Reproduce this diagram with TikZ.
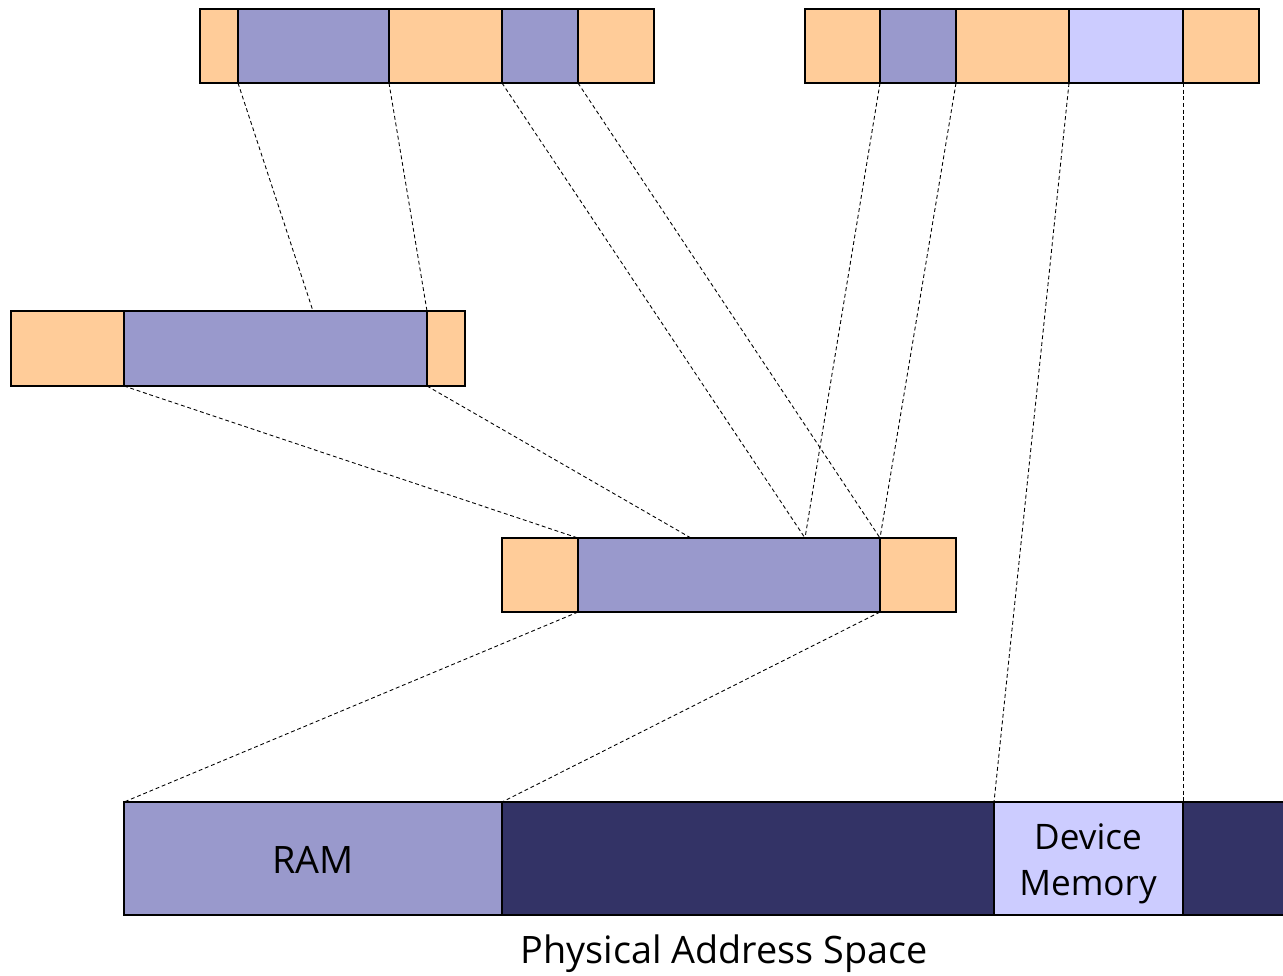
\documentclass[tikz,border=0pt]{standalone}
\usepackage{fontspec}
\setmainfont{Open Sans}
\definecolor{pageor}{HTML}{FFCC99}
\definecolor{pagepu}{HTML}{9999CC}
\definecolor{pagela}{HTML}{CCCCFF}
\definecolor{physnv}{HTML}{333366}
\begin{document}
\begin{tikzpicture}[x=0.02cm,y=-0.02cm,
  seg/.style={draw=black,line width=0.6pt},
  map/.style={draw=black,line width=0.5pt,dash pattern=on 2.2pt off 1.6pt},
  lbl/.style={font=\fontsize{21.5}{27}\selectfont,align=center,inner sep=0pt},
  devlbl/.style={font=\fontsize{20}{26.5}\selectfont,align=center,inner sep=0pt}]
\useasboundingbox (0,0) rectangle (1283,975);

% virtual address space A (top left)
\filldraw[seg,fill=pageor] (200,9) rectangle (238,83);
\filldraw[seg,fill=pagepu] (238,9) rectangle (389,83);
\filldraw[seg,fill=pageor] (389,9) rectangle (502,83);
\filldraw[seg,fill=pagepu] (502,9) rectangle (578,83);
\filldraw[seg,fill=pageor] (578,9) rectangle (654,83);

% virtual address space B (top right)
\filldraw[seg,fill=pageor] (805,9) rectangle (880,83);
\filldraw[seg,fill=pagepu] (880,9) rectangle (956,83);
\filldraw[seg,fill=pageor] (956,9) rectangle (1069,83);
\filldraw[seg,fill=pagela] (1069,9) rectangle (1183,83);
\filldraw[seg,fill=pageor] (1183,9) rectangle (1259,83);

% intermediate space (middle left)
\filldraw[seg,fill=pageor] (11,311) rectangle (124,386);
\filldraw[seg,fill=pagepu] (124,311) rectangle (427,386);
\filldraw[seg,fill=pageor] (427,311) rectangle (465,386);

% intermediate space (center)
\filldraw[seg,fill=pageor] (502,538) rectangle (578,612);
\filldraw[seg,fill=pagepu] (578,538) rectangle (880,612);
\filldraw[seg,fill=pageor] (880,538) rectangle (956,612);

% physical address space
\fill[physnv] (502,802) rectangle (1290,915);
\draw[seg] (1290,802) -- (502,802) -- (502,915) -- (1290,915);
\filldraw[seg,fill=pagepu] (124,802) rectangle (502,915);
\filldraw[seg,fill=pagela] (994,802) rectangle (1183,915);
\node[lbl] (ram) at (313,860) {RAM};
\node[devlbl] (dev) at (1088,864) {Device\\Memory};
\node[lbl] (phys) at (724,954) {Physical Address Space};

% coordinates of segment corners
\coordinate (a1) at (238,83);  \coordinate (a2) at (389,83);
\coordinate (a3) at (502,83);  \coordinate (a4) at (578,83);
\coordinate (b1) at (880,83);  \coordinate (b2) at (956,83);
\coordinate (b3) at (1069,83); \coordinate (b4) at (1183,83);
\coordinate (m1) at (313,311); \coordinate (m2) at (427,311);
\coordinate (m3) at (124,386); \coordinate (m4) at (427,386);
\coordinate (c1) at (578,538); \coordinate (c2) at (691,538);
\coordinate (c3) at (805,538); \coordinate (c4) at (880,538);
\coordinate (c5) at (578,612); \coordinate (c6) at (880,612);
\coordinate (p1) at (124,802); \coordinate (p2) at (502,802);
\coordinate (p3) at (994,802); \coordinate (p4) at (1183,802);

% mappings
\draw[map] (a1) -- (m1);
\draw[map] (a2) -- (m2);
\draw[map] (a3) -- (c3);
\draw[map] (a4) -- (c4);
\draw[map] (b1) -- (c3);
\draw[map] (b2) -- (c4);
\draw[map] (b3) -- (p3);
\draw[map] (b4) -- (p4);
\draw[map] (m3) -- (c1);
\draw[map] (m4) -- (c2);
\draw[map] (c5) -- (p1);
\draw[map] (c6) -- (p2);
\end{tikzpicture}
\end{document}
